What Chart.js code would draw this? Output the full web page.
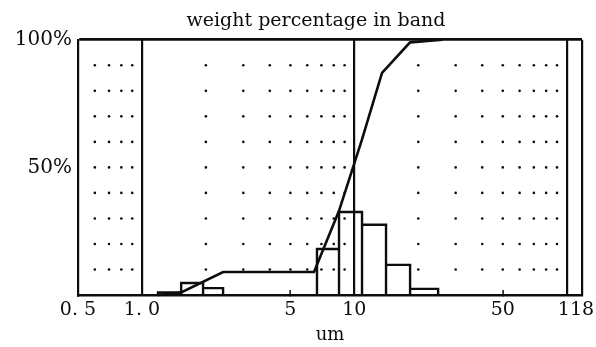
<!DOCTYPE html>
<html>
<head>
<meta charset="utf-8">
<title>weight percentage in band</title>
<script src="https://cdn.jsdelivr.net/npm/chart.js@4.4.1/dist/chart.umd.min.js"></script>
<style>
  html, body { margin: 0; padding: 0; background: #fff; }
  #wrap { width: 596px; height: 347px; }
</style>
</head>
<body>
<div id="wrap"><canvas id="psd"></canvas></div>
<script>
// size bands (um) and weight percentage in each band
const bandFrom   = [1.19, 1.53, 1.94, 6.67, 8.47, 10.87, 14.1, 18.3];
const bandTo     = [1.53, 1.94, 2.41, 8.47, 10.87, 14.1, 18.3, 24.8];
const bandWeight = [1.0, 4.7, 2.7, 18, 32.5, 27.5, 11.8, 2.4];

// cumulative weight curve
const cumSize    = [1.19, 1.53, 2.41, 6.46, 8.47, 10.87, 13.5, 18.3, 26.0];
const cumPercent = [0, 1, 9, 9, 33, 61, 87, 99, 100];

// axis ticks
const xTickValues = [0.5, 1, 5, 10, 50, 118];
const xTickLabels = ['0. 5', '1. 0', '5', '10', '50', '118'];
const xRuleValues = [1, 10, 100, 118];   // full height rules
const xStubValues = [5, 50];             // short marks on the base line
const yTickValues = [0, 50, 100];
const yTickLabels = ['', '50%', '100%'];

// dotted background grid
const dotSizes  = [0.6, 0.7, 0.8, 0.9, 2, 3, 4, 5, 6, 7, 8, 9, 20, 30, 40, 50, 60, 70, 80, 90];
const dotLevels = [10, 20, 30, 40, 50, 60, 70, 80, 90];

const ink = '#0d0d0d';
const serif = "'DejaVu Serif', 'Liberation Serif', serif";

// each band is an open box standing on the base line
const histPoints = [];
bandFrom.forEach((lo, i) => {
  const hi = bandTo[i], w = bandWeight[i];
  histPoints.push({x: lo, y: 0}, {x: lo, y: w}, {x: hi, y: w}, {x: hi, y: 0}, {x: hi, y: null});
});

const dotGrid = {
  id: 'dotGrid',
  beforeDatasetsDraw(chart) {
    const {ctx, scales: {x, y}} = chart;
    ctx.save();
    ctx.fillStyle = ink;
    dotSizes.forEach(s => {
      const px = x.getPixelForValue(s);
      dotLevels.forEach(l => {
        ctx.beginPath();
        ctx.arc(px, y.getPixelForValue(l), 1.3, 0, Math.PI * 2);
        ctx.fill();
      });
    });
    ctx.restore();
  }
};

// the left padding only moves the title; let the y labels use that room
const yLabelRoom = {
  id: 'yLabelRoom',
  afterLayout(chart) {
    const y = chart.scales.y;
    y.left = 0;
    y.width = y.right;
  }
};

new Chart(document.getElementById('psd'), {
  type: 'line',
  data: {
    datasets: [
      {
        data: histPoints,
        borderColor: ink, borderWidth: 2.4, pointRadius: 0, tension: 0, spanGaps: false, clip: 3
      },
      {
        data: cumSize.map((s, i) => ({x: s, y: cumPercent[i]})),
        borderColor: ink, borderWidth: 2.6, pointRadius: 0, tension: 0, clip: 3
      }
    ]
  },
  options: {
    responsive: true,
    maintainAspectRatio: false,
    animation: false,
    layout: { padding: { left: 50, right: 14, top: 0, bottom: 0 } },
    plugins: {
      legend: { display: false },
      tooltip: { enabled: false },
      title: {
        display: true,
        text: 'weight percentage in band',
        color: ink,
        font: { family: serif, size: 19, weight: 'normal' },
        padding: { top: 10, bottom: 7 }
      }
    },
    scales: {
      x: {
        type: 'logarithmic',
        min: 0.5,
        max: 118,
        afterBuildTicks: s => {
          s.ticks = [...xTickValues, 100].sort((a, b) => a - b).map(v => ({value: v}));
        },
        afterFit: s => { s.height = 52; s.paddingLeft = 0; s.paddingRight = 0; },
        ticks: {
          autoSkip: false,
          maxRotation: 0,
          padding: 9,
          color: ink,
          font: { family: serif, size: 19 },
          callback: v => {
            const i = xTickValues.indexOf(v);
            if (i < 0) return '';
            // keep the last label clear of the right edge
            return v === 118 ? xTickLabels[i] + '\u2007' : xTickLabels[i];
          }
        },
        grid: {
          color: c => xRuleValues.includes(c.tick.value) ? ink : 'transparent',
          lineWidth: 2.2,
          drawTicks: true,
          tickLength: -5,
          tickColor: c => xStubValues.includes(c.tick.value) ? ink : 'transparent',
          tickWidth: 1.5
        },
        border: { color: ink, width: 2.4 },
        title: {
          display: true,
          text: 'um',
          color: ink,
          font: { family: serif, size: 18 },
          padding: { top: 0, bottom: 1 }
        }
      },
      y: {
        min: 0,
        max: 100,
        afterBuildTicks: s => { s.ticks = yTickValues.map(v => ({value: v})); },
        afterFit: s => { s.width = 28; s.paddingTop = 0; s.paddingBottom = 0; },
        ticks: {
          padding: 6,
          color: ink,
          font: { family: serif, size: 20 },
          callback: v => yTickLabels[yTickValues.indexOf(v)]
        },
        grid: {
          color: c => c.tick.value === 100 ? ink : 'transparent',
          lineWidth: 2.8,
          drawTicks: false
        },
        border: { color: ink, width: 2.2 }
      }
    }
  },
  plugins: [dotGrid, yLabelRoom]
});
</script>
</body>
</html>
